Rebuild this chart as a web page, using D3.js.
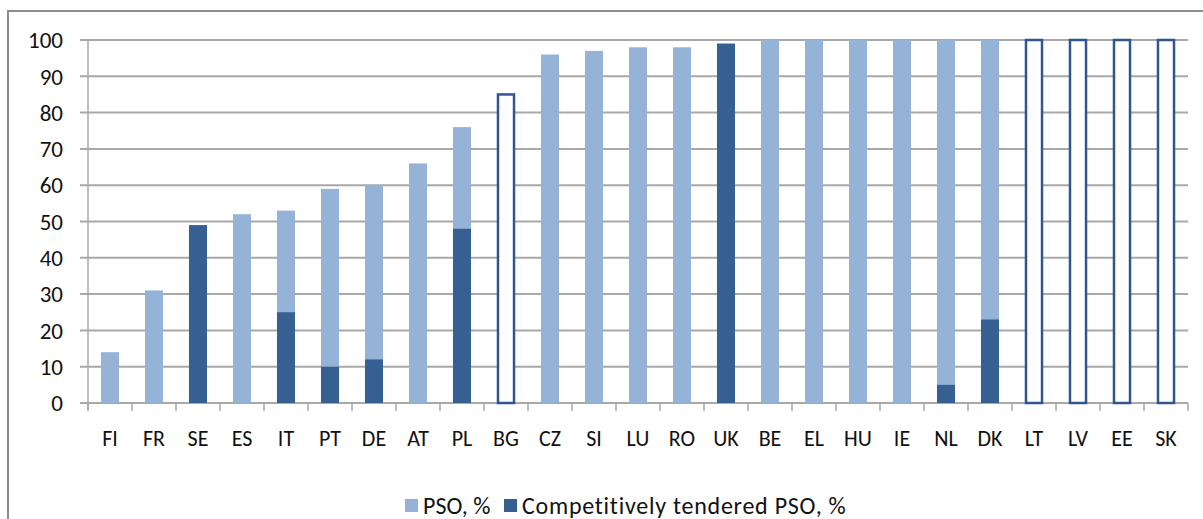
<!DOCTYPE html>
<html>
<head>
<meta charset="utf-8">
<script src="https://cdn.jsdelivr.net/npm/d3@7/dist/d3.min.js"></script>
<style>
  html, body { margin: 0; padding: 0; background: #fff; }
  svg { display: block; font-family: Carlito, Calibri, Lato, sans-serif; }
</style>
</head>
<body>
<svg width="1203" height="519"></svg>
<script>
    // Data
    const countries = ['FI','FR','SE','ES','IT','PT','DE','AT','PL','BG','CZ','SI','LU','RO','UK','BE','EL','HU','IE','NL','DK','LT','LV','EE','SK'];
    const psoShare  = [14, 31, 49, 52, 53, 59, 60, 66, 76, 85, 96, 97, 98, 98, 99, 100, 100, 100, 100, 100, 100, 100, 100, 100, 100];
    const tendered  = [0, 0, 49, 0, 25, 10, 12, 0, 48, 0, 0, 0, 0, 0, 99, 0, 0, 0, 0, 5, 23, 0, 0, 0, 0];
    // countries drawn as empty outline only (no split known)
    const outlineOnly = ['BG','LT','LV','EE','SK'];
    const yTicks = [0, 10, 20, 30, 40, 50, 60, 70, 80, 90, 100];
    const legendLabels = ['PSO, %', 'Competitively tendered PSO, %'];

    const lightBlue = '#95b3d7', darkBlue = '#376092', gridCol = '#a9a9a9';

    const svg = d3.select('svg');
    const plotL = 88, plotR = 1188, plotT = 40, plotB = 403;

    // frame
    svg.append('rect')
       .attr('x', 8).attr('y', 11)
       .attr('width', 1210).attr('height', 530)
       .attr('fill', 'none').attr('stroke', '#8c8c8c').attr('stroke-width', 2);

    const x = d3.scaleBand().domain(countries).range([plotL, plotR]).paddingInner(0.59).paddingOuter(0.295);
    const y = d3.scaleLinear().domain([0, 100]).range([plotB, plotT]);

    // gridlines
    svg.append('g').selectAll('line').data(yTicks).join('line')
       .attr('x1', plotL - 8).attr('x2', plotR)
       .attr('y1', d => y(d)).attr('y2', d => y(d))
       .attr('stroke', gridCol).attr('stroke-width', 2);

    // y axis line
    svg.append('line')
       .attr('x1', plotL).attr('x2', plotL).attr('y1', plotT).attr('y2', plotB + 8)
       .attr('stroke', gridCol).attr('stroke-width', 1.5);

    // y labels
    svg.append('g').selectAll('text').data(yTicks).join('text')
       .attr('x', 63).attr('y', d => y(d)).attr('dy', '0.36em')
       .attr('text-anchor', 'end').attr('font-size', 23).attr('fill', '#111')
       .text(d => d);

    // category ticks
    const step = x.step();
    svg.append('g').selectAll('line').data(d3.range(countries.length + 1)).join('line')
       .attr('x1', i => plotL + i * step).attr('x2', i => plotL + i * step)
       .attr('y1', plotB).attr('y2', plotB + 8)
       .attr('stroke', gridCol).attr('stroke-width', 1.5);

    // x labels
    svg.append('g').selectAll('text').data(countries).join('text')
       .attr('x', d => x(d) + x.bandwidth() / 2).attr('y', 446)
       .attr('text-anchor', 'middle').attr('font-size', 22).attr('fill', '#111')
       .text(d => d);

    const rows = countries.map((c, i) => ({ c, pso: psoShare[i], t: tendered[i], outline: outlineOnly.includes(c) }));

    // PSO bars
    svg.append('g').selectAll('rect').data(rows.filter(d => !d.outline)).join('rect')
       .attr('x', d => x(d.c)).attr('width', x.bandwidth())
       .attr('y', d => y(d.pso)).attr('height', d => y(0) - y(d.pso))
       .attr('fill', lightBlue);

    // tendered bars (front)
    svg.append('g').selectAll('rect').data(rows.filter(d => d.t > 0)).join('rect')
       .attr('x', d => x(d.c)).attr('width', x.bandwidth())
       .attr('y', d => y(d.t)).attr('height', d => y(0) - y(d.t))
       .attr('fill', darkBlue);

    // outline-only bars
    svg.append('g').selectAll('rect').data(rows.filter(d => d.outline)).join('rect')
       .attr('x', d => x(d.c) + 1).attr('width', x.bandwidth() - 2)
       .attr('y', d => y(d.pso)).attr('height', d => y(0) - y(d.pso))
       .attr('fill', '#fff').attr('stroke', '#2f5690').attr('stroke-width', 2.5);

    // legend
    const legend = svg.append('g');
    const items = [
      { label: legendLabels[0], col: lightBlue, x: 405, ls: 0 },
      { label: legendLabels[1], col: darkBlue, x: 504, ls: 0.75 }
    ];
    items.forEach(it => {
      legend.append('rect').attr('x', it.x).attr('y', 499).attr('width', 13).attr('height', 13).attr('fill', it.col);
      legend.append('text').attr('x', it.x + 18).attr('y', 514)
            .attr('font-size', 24).attr('letter-spacing', it.ls).attr('fill', '#111').text(it.label);
    });
</script>
</body>
</html>
